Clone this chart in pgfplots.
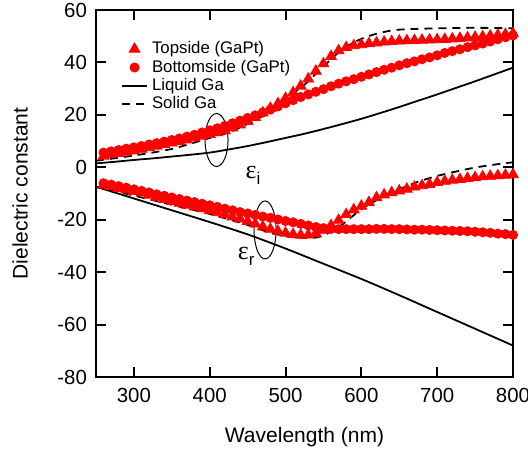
\documentclass[border=0pt]{standalone}
\usepackage{pgfplots}
\pgfplotsset{compat=1.18}
\usepackage{fontspec}
\setmainfont{Liberation Sans}
\newfontfamily\greekf{Liberation Serif}

\pgfplotstableread{
x y
260 4.3
270 4.8
280 5.3
290 5.8
300 6.3
310 6.9
320 7.5
330 8.1
340 8.7
350 9.3
360 9.9
370 10.5
380 11.2
390 11.9
400 12.6
410 13.2
420 14.0
430 15.0
440 16.2
450 17.5
460 19.0
470 20.8
480 22.5
490 24.3
500 26.3
510 28.5
520 31.0
530 33.7
540 36.7
550 39.5
560 42.3
570 44.5
580 45.7
590 46.4
600 46.8
610 47.2
620 47.5
630 47.8
640 48.0
650 48.2
660 48.3
670 48.4
680 48.5
690 48.6
700 48.7
710 48.8
720 49.0
730 49.2
740 49.4
750 49.6
760 49.8
770 50.1
780 50.4
790 50.7
800 51.0
}\topi

\pgfplotstableread{
x y
260 -6.8
270 -7.4
280 -8.0
290 -8.6
300 -9.2
310 -9.8
320 -10.6
330 -11.4
340 -12.2
350 -13.0
360 -13.7
370 -14.4
380 -15.1
390 -15.8
400 -16.5
410 -17.3
420 -18.1
430 -18.9
440 -19.7
450 -20.6
460 -21.6
470 -22.7
480 -23.6
490 -24.4
500 -25.1
510 -25.6
520 -25.9
530 -25.8
540 -25.2
550 -24.0
560 -22.2
570 -20.2
580 -18.0
590 -16.2
600 -14.8
610 -13.4
620 -11.6
630 -10.5
640 -9.7
650 -9.0
660 -8.3
670 -7.5
680 -7.0
690 -6.5
700 -5.8
710 -5.3
720 -4.9
730 -4.6
740 -4.2
750 -3.9
760 -3.6
770 -3.4
780 -3.2
790 -3.0
800 -2.8
}\topr

\pgfplotstableread{
x y
260 5.6
270 6.1
280 6.6
290 7.1
300 7.6
310 8.1
320 8.7
330 9.2
340 9.8
350 10.4
360 11.0
370 11.7
380 12.4
390 13.3
400 14.1
410 14.9
420 15.8
430 16.8
440 17.8
450 18.8
460 19.8
470 20.9
480 22.0
490 23.2
500 24.4
510 25.6
520 26.8
530 27.8
540 28.8
550 29.8
560 30.9
570 31.9
580 32.8
590 33.6
600 34.5
610 35.4
620 36.3
630 37.2
640 38.0
650 38.9
660 39.7
670 40.4
680 41.2
690 41.9
700 42.7
710 43.6
720 44.3
730 45.0
740 45.8
750 46.5
760 47.2
770 48.0
780 48.8
790 49.6
800 50.3
}\boti

\pgfplotstableread{
x y
260 -6.1
270 -6.6
280 -7.2
290 -7.8
300 -8.4
310 -9.0
320 -9.6
330 -10.3
340 -10.9
350 -11.5
360 -12.1
370 -12.7
380 -13.3
390 -13.9
400 -14.5
410 -15.1
420 -15.8
430 -16.4
440 -17.1
450 -17.6
460 -18.2
470 -18.8
480 -19.3
490 -19.9
500 -20.5
510 -21.0
520 -21.6
530 -22.2
540 -22.8
550 -23.2
560 -23.5
570 -23.6
580 -23.6
590 -23.6
600 -23.6
610 -23.6
620 -23.5
630 -23.5
640 -23.6
650 -23.6
660 -23.7
670 -23.8
680 -23.8
690 -23.9
700 -24.0
710 -24.1
720 -24.2
730 -24.3
740 -24.4
750 -24.6
760 -24.8
770 -25.0
780 -25.3
790 -25.5
800 -25.8
}\botr

\pgfplotstableread{
x y
250 1.5
275 2.1
300 2.8
325 3.4
350 4.1
375 4.8
400 5.6
425 6.8
450 8.1
475 9.6
500 11.2
525 12.8
550 14.6
575 16.5
600 18.5
625 20.7
650 23.0
675 25.4
700 27.8
725 30.3
750 32.8
775 35.4
800 38.0
}\liqi

\pgfplotstableread{
x y
250 -7.4
300 -11.9
350 -16.4
400 -20.9
450 -25.6
500 -31.0
550 -36.8
600 -42.6
650 -48.8
700 -55.2
750 -61.6
800 -68.0
}\liqr

\pgfplotstableread{
x y
250 2.5
300 4.5
350 7.0
400 11.2
425 13.3
450 16.5
475 20.5
500 26.3
525 31.5
550 38.5
575 45.0
600 49.0
625 51.3
650 52.5
700 53.0
750 53.2
800 53.0
}\soli

\pgfplotstableread{
x y
250 -7.4
300 -10.8
350 -14.3
400 -17.8
450 -22.0
475 -24.5
500 -26.3
525 -26.9
540 -26.8
550 -26.0
560 -24.5
575 -21.8
600 -16.0
625 -11.8
650 -8.4
675 -5.5
700 -3.3
725 -1.6
750 -0.1
775 1.0
800 1.9
}\solr

\begin{document}
\begin{tikzpicture}
\begin{axis}[
    scale only axis,
    width=208.5pt,
    height=183.5pt,
    xmin=250, xmax=800,
    ymin=-80, ymax=60,
    xtick={300,400,...,800},
    ytick={-80,-60,...,60},
    tick align=inside,
    major tick length=5pt,
    axis line style={line width=1pt},
    every tick/.style={black, line width=1pt},
    /pgf/number format/assume math mode=true,
    ticklabel style={font=\fontsize{10.2}{11}\selectfont},
    xticklabel style={yshift=-2pt},
    yticklabel style={xshift=-1pt},
    xlabel={Wavelength (nm)},
    ylabel={Dielectric constant},
    label style={font=\fontsize{10.5}{12}\selectfont},
    x label style={at={(axis description cs:0.5,-0.163)}, anchor=center},
    y label style={at={(axis description cs:-0.182,0.5)}, anchor=center},
    legend style={at={(axis description cs:0.045,0.937)}, anchor=north west,
        draw=none, fill=none, font=\fontsize{8.4}{9}\selectfont, row sep=-2.4pt},
    legend cell align=left,
    legend image code/.code={\draw[mark repeat=2,mark phase=2,#1]
        plot coordinates {(0cm,0cm) (0.22cm,0cm) (0.44cm,0cm)};},
]
\addplot[only marks, mark=triangle*, mark size=3.1pt, red, mark options={fill=red, draw=red}] table {\topi};
\addlegendentry{Topside (GaPt)}
\addplot[only marks, mark=*, mark size=2.3pt, red, mark options={fill=red, draw=red}] table {\boti};
\addlegendentry{Bottomside (GaPt)}
\addplot[black, line width=0.9pt, smooth] table {\liqi};
\addlegendentry{Liquid Ga}
\addplot[black, line width=0.9pt, dash pattern=on 4pt off 3pt, smooth] table {\soli};
\addlegendentry{Solid Ga}

\addplot[forget plot, only marks, mark=triangle*, mark size=3.1pt, red, mark options={fill=red, draw=red}] table {\topr};
\addplot[forget plot, only marks, mark=*, mark size=2.3pt, red, mark options={fill=red, draw=red}] table {\botr};
\addplot[forget plot, black, line width=0.9pt, smooth] table {\liqr};
\addplot[forget plot, black, line width=0.9pt, dash pattern=on 4pt off 3pt, smooth] table {\solr};

\draw[black, line width=0.5pt] (axis cs:409,10.4) ellipse [x radius=5.75pt, y radius=13.25pt];
\draw[black, line width=0.5pt] (axis cs:473,-23.9) ellipse [x radius=5.5pt, y radius=14.5pt];
\node[anchor=center] at (axis cs:457,-3) {{\greekf\fontsize{13}{14}\selectfont ε}\raisebox{-3pt}{\fontsize{8.5}{9}\selectfont i}};
\node[anchor=center] at (axis cs:448,-34) {{\greekf\fontsize{13}{14}\selectfont ε}\raisebox{-3pt}{\fontsize{8.5}{9}\selectfont r}};
\end{axis}
\pgfresetboundingbox
\path ([shift={(-48pt,-36.5pt)}]current axis.south west) rectangle ([shift={(7.5pt,5pt)}]current axis.north east);
\end{tikzpicture}
\end{document}
